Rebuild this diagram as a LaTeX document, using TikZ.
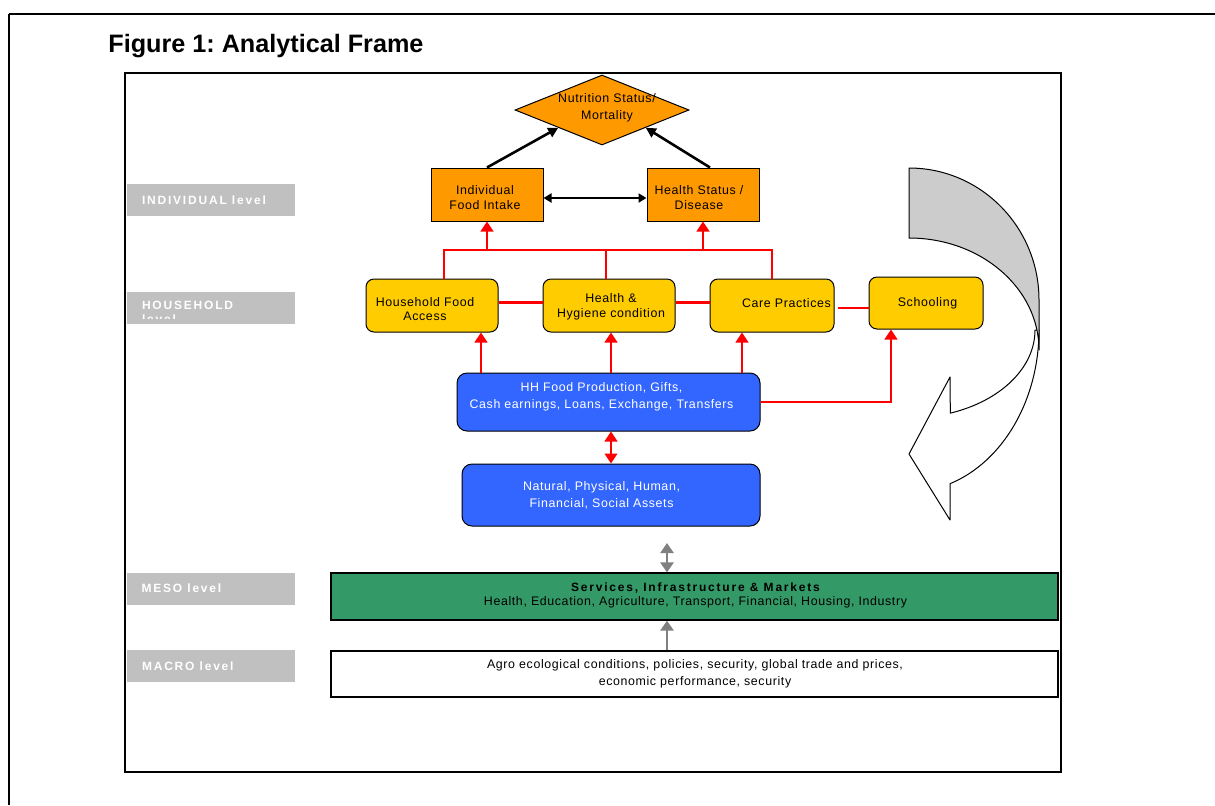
\documentclass[tikz,border=0pt]{standalone}
\usepackage{fontspec}
\setmainfont{Liberation Sans}
\newfontfamily\boxfont[LetterSpace=5]{Liberation Sans}
\newfontfamily\lblfont[LetterSpace=15]{Liberation Sans}
\usetikzlibrary{arrows.meta,shapes.geometric}
\definecolor{cOrange}{HTML}{FF9900}
\definecolor{cYellow}{HTML}{FFCC00}
\definecolor{cBlue}{HTML}{3366FF}
\definecolor{cGreen}{HTML}{339966}
\definecolor{cLabel}{HTML}{C0C0C0}
\definecolor{cArrowGrey}{HTML}{808080}
\definecolor{cBand}{HTML}{CCCCCC}
\frenchspacing
\begin{document}
\begin{tikzpicture}[x=0.5pt,y=-0.5pt,
  every node/.style={font=\fontsize{6.2}{8}\boxfont, align=center, inner sep=0pt},
  txt/.style={font=\fontsize{6.2}{#1}\boxfont},
  txt/.default=8,
  obox/.style={draw=black, line width=0.5pt, fill=cOrange, minimum width=56pt, minimum height=26.5pt},
  ybox/.style={draw=black, line width=0.5pt, fill=cYellow, rounded corners=4pt, minimum height=26.5pt},
  bbox/.style={draw=black, line width=0.5pt, fill=cBlue, rounded corners=5pt},
  wtxt/.style={txt=#1, text=white},
  lvl/.style={fill=cLabel, minimum width=84pt, minimum height=16pt},
  lvltext/.style={text=white, font=\fontsize{6}{7}\lblfont\bfseries, anchor=west, align=left},
  redl/.style={draw=red, line width=1.1pt},
  reda/.style={redl, -{Triangle[width=6.3pt,length=5pt]}},
  redd/.style={redl, {Triangle[width=6.3pt,length=5pt]}-{Triangle[width=6.3pt,length=5pt]}},
  blka/.style={draw=black, line width=1.3pt, -{Triangle[width=5pt,length=5pt]}},
  blkd/.style={draw=black, line width=1.3pt, {Triangle[width=4.5pt,length=4pt]}-{Triangle[width=4.5pt,length=4pt]}},
  greya/.style={draw=cArrowGrey, line width=1.4pt, -{Triangle[width=6.5pt,length=5pt]}},
  greyd/.style={draw=cArrowGrey, line width=1.4pt, {Triangle[width=6.5pt,length=5pt]}-{Triangle[width=6.5pt,length=5pt]}},
  band/.style={draw=black, line width=0.5pt, line join=round}
]
\useasboundingbox (0,0) rectangle (1215,805);

% outer frame
\draw[line width=0.6pt] (9,805) -- (9,14);
\draw[line width=1.2pt] (8.7,14) -- (1215,14);
% title
\node[anchor=base west, font=\fontsize{12.6}{15}\selectfont\bfseries] (title) at (108,52) {Figure 1: Analytical Frame};
% inner frame
\draw[line width=1pt] (125,73) rectangle (1061,772);

% level labels
\node[lvl] (lInd) at (211,200) {};
\node[lvltext] (lIndT) at ([xshift=7.5pt]lInd.west) {INDIVIDUAL level};
\node[lvl] (lHH) at (211,308) {};
\begin{scope}
  \clip (lHH.north west) rectangle (lHH.east |- 0,318.5);
  \node[lvltext, anchor=north west] (lHHT) at ([xshift=7.5pt,yshift=-4.5pt]lHH.north west) {HOUSEHOLD\\level};
\end{scope}
\node[lvl] (lMeso) at (210.5,588.5) {};
\node[lvltext] (lMesoT) at ([xshift=7.5pt]lMeso.west) {MESO level};
\node[lvl] (lMacro) at (211,666) {};
\node[lvltext] (lMacroT) at ([xshift=7.5pt]lMacro.west) {MACRO level};

% curved block arrow: front part first, then the shaded back part
\path[band, fill=white] (1035,330) arc[start angle=0, end angle=-70.85, x radius=63pt, y radius=44pt]
  -- (950,377) -- (909,454) -- (950,520) -- (950,483.7)
  arc[start angle=-71.61, end angle=0, x radius=65pt, y radius=81pt] -- cycle;
\path[band, fill=cBand] (909,168) arc[start angle=90, end angle=0, x radius=65pt, y radius=66pt]
  -- (1039,350) arc[start angle=0, end angle=90, x radius=65pt, y radius=56pt] -- cycle;

% top
\node[diamond, draw=black, fill=cOrange, line width=0.5pt, minimum width=87pt, minimum height=35pt, inner sep=0pt] (nut) at (602,110) {};
\node[txt=8.5] (nutT) at (607,107.5) {Nutrition Status/\\Mortality};

\node[obox] (ifi) at (487,194.5) {};
\node[txt=7.5] (ifiT) at (485,198) {Individual\\Food Intake};
\node[obox] (hsd) at (703,194.5) {};
\node[txt=7.5] (hsdT) at (699,198) {Health Status /\\Disease};

% household row
\node[ybox, minimum width=66pt] (hfa) at (432,305.5) {};
\node[txt=7] (hfaT) at (425,309.5) {Household Food\\Access};
\node[ybox, minimum width=66pt] (hhc) at (609,305.5) {};
\node[txt=7.5] (hhcT) at (611,306.5) {Health \&\\Hygiene condition};
\node[ybox, minimum width=62pt] (cp) at (772,305.5) {};
\node[txt] (cpT) at (786.5,303) {Care Practices};
\node[ybox, minimum width=57pt, minimum height=26pt] (sch) at (926,303) {};
\node[txt] (schT) at (927.5,303) {Schooling};

% blue boxes
\node[bbox, minimum width=151.5pt, minimum height=29pt] (hhp) at (608.5,402) {};
\node[wtxt=8.6] (hhpT) at (601.5,397) {HH Food Production, Gifts,\\Cash earnings, Loans, Exchange, Transfers};
\node[bbox, minimum width=149pt, minimum height=31pt] (ast) at (611,495) {};
\node[wtxt=8.3] (astT) at (601.5,495.5) {Natural, Physical, Human,\\Financial, Social Assets};

% meso / macro
\node[draw=black, line width=0.6pt, fill=cGreen, minimum width=363.5pt, minimum height=23.5pt] (meso) at (694.5,596.5) {};
\node[txt=7.2] (mesoT) at (695.5,595.5) {{\fontsize{6}{7.2}\lblfont\bfseries Services, Infrastructure \& Markets}\\Health, Education, Agriculture, Transport, Financial, Housing, Industry};
\node[draw=black, line width=0.6pt, fill=white, minimum width=363.5pt, minimum height=23pt] (macro) at (694.5,674) {};
\node[txt=8.3] (macroT) at (695,674) {Agro ecological conditions, policies, security, global trade and prices,\\economic performance, security};

% black connectors
\draw[blka] (ifi.north) -- (nut.south west);
\draw[blka] ([xshift=3.5pt]hsd.north) -- (nut.south east);
\draw[blkd] ([yshift=-1.75pt]ifi.east) -- ([yshift=-1.75pt]hsd.west);

% red bus
\coordinate (bus) at (0,250);
\draw[redl] ([xshift=6pt]hfa.north) |- (cp.north |- bus) -- (cp.north);
\draw[redl] ([xshift=-1.5pt]hhc.north) -- ([xshift=-1.5pt]hhc.north |- bus);
\draw[reda] (ifi.south |- bus) -- (ifi.south);
\draw[reda] (hsd.south |- bus) -- (hsd.south);
\draw[redl] ([yshift=1.5pt]hfa.east) -- ([yshift=1.5pt]hhc.west);
\draw[redl] ([yshift=1.5pt]hhc.east) -- ([yshift=1.5pt]cp.west);
\draw[redl] ([xshift=1.5pt,yshift=-1.25pt]cp.east) -- ([yshift=-2.5pt]sch.west);

% red up arrows
\draw[reda] ([xshift=24.5pt]hfa.south |- hhp.north) -- ([xshift=24.5pt]hfa.south);
\draw[reda] ([xshift=1pt]hhc.south |- hhp.north) -- ([xshift=1pt]hhc.south);
\draw[reda] ([xshift=-15pt]cp.south |- hhp.north) -- ([xshift=-15pt]cp.south);
\draw[reda] (hhp.east) -| ([xshift=-17.5pt]sch.south);
\draw[redd] (ast.north |- hhp.south) -- (ast.north);

% grey arrows
\coordinate (gtop) at (667,543);
\draw[greyd] (gtop) -- (gtop |- meso.north);
\draw[greya] (gtop |- macro.north) -- (gtop |- meso.south);
\end{tikzpicture}
\end{document}
